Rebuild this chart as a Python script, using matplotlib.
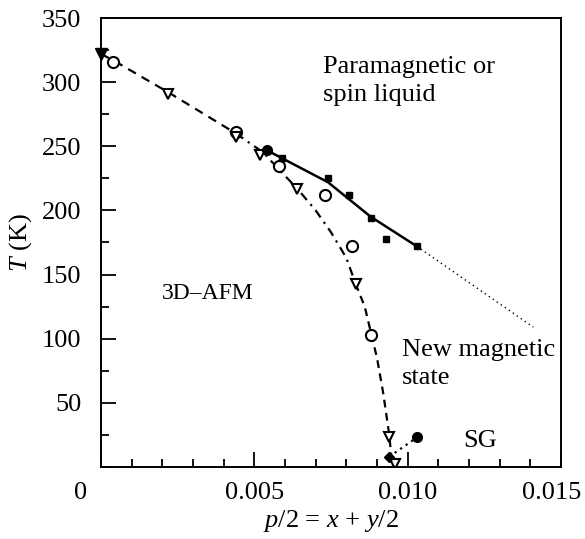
import matplotlib
matplotlib.use('Agg')
import matplotlib.pyplot as plt
import matplotlib.transforms as mtransforms
from matplotlib.ticker import MultipleLocator

plt.rcParams['font.family'] = ['Liberation Serif', 'DejaVu Serif']
plt.rcParams['mathtext.fontset'] = 'custom'
plt.rcParams['mathtext.rm'] = 'Liberation Serif'
plt.rcParams['mathtext.it'] = 'Liberation Serif:italic'

# phase boundary curve (dashed / dash-dot)
curve_x = [0.0, 0.0004, 0.0022, 0.0044, 0.0053, 0.0058, 0.0064, 0.0070,
           0.0075, 0.0080, 0.0083, 0.0086, 0.0088, 0.0090, 0.0092, 0.0094, 0.0095]
curve_T = [322, 317, 292, 260, 245, 232, 217, 200,
           183, 163, 143, 125, 105, 85, 58, 25, 0]

# solid line through the filled squares
solid_x = [0.0054, 0.0074, 0.0088, 0.0103]
solid_T = [247, 222, 195, 172]

# dotted extrapolation
dot_x = [0.0103, 0.0141]
dot_T = [172, 109]

# dotted link near the spin glass region
sg_x = [0.0094, 0.0103]
sg_T = [8, 23]

# markers
open_circ_x = [0.0004, 0.0044, 0.0058, 0.0073, 0.0082, 0.0088]
open_circ_T = [316, 261, 235, 212, 172, 103]

open_tri_x = [0.0022, 0.0044, 0.0052, 0.0064, 0.0083, 0.0094, 0.0096]
open_tri_T = [291, 257, 243, 217, 143, 23, 2]

fill_tri_x = [0.0]
fill_tri_T = [322]

fill_circ_x = [0.0054, 0.0103]
fill_circ_T = [247, 23]

fill_sq_x = [0.0059, 0.0074, 0.0081, 0.0088, 0.0093, 0.0103]
fill_sq_T = [241, 225, 212, 194, 178, 172]

fill_dia_x = [0.0094]
fill_dia_T = [8]

fig = plt.figure(figsize=(5.85, 5.39), dpi=100)
ax = fig.add_axes([0.1726, 0.1336, 0.959 - 0.1726, 0.9666 - 0.1336])

# boundary curve: dashed ends, dash-dot middle
ax.plot(curve_x[:4], curve_T[:4], color='black', lw=1.6, dashes=(4, 3))
ax.plot(curve_x[3:11], curve_T[3:11], color='black', lw=1.6, dashes=(4, 2.5, 1, 2.5))
ax.plot(curve_x[10:], curve_T[10:], color='black', lw=1.6, dashes=(3.5, 2.5))

ax.plot(solid_x, solid_T, color='black', lw=1.8)
ax.plot(dot_x, dot_T, color='black', lw=1.0, linestyle=(0, (1, 2.5)))
ax.plot(sg_x, sg_T, color='black', lw=1.6, linestyle=(0, (1, 2)))

ax.plot(open_circ_x, open_circ_T, 'o', ms=8, mfc='white', mec='black', mew=1.5, ls='none')
ax.plot(open_tri_x, open_tri_T, 'v', ms=7.5, mfc='white', mec='black', mew=1.5, ls='none')
ax.plot(fill_tri_x, fill_tri_T, 'v', ms=8, color='black', ls='none', clip_on=False)
ax.plot(fill_circ_x, fill_circ_T, 'o', ms=7, color='black', ls='none')
ax.plot(fill_sq_x, fill_sq_T, 's', ms=5, color='black', ls='none')
ax.plot(fill_dia_x, fill_dia_T, 'D', ms=5, color='black', ls='none')

ax.set_xlim(0, 0.015)
ax.set_ylim(0, 350)
ax.xaxis.set_major_locator(MultipleLocator(0.005))
ax.xaxis.set_minor_locator(MultipleLocator(0.001))
ax.yaxis.set_major_locator(MultipleLocator(50))
ax.yaxis.set_minor_locator(MultipleLocator(25))
ax.set_xticks([0, 0.005, 0.010, 0.015])
ax.set_xticklabels(['0', '0.005', '0.010', '0.015'])
ax.set_yticks([50, 100, 150, 200, 250, 300, 350])
ax.tick_params(which='both', direction='in', top=False, right=False,
               labelsize=19, width=1.3)
ax.tick_params(which='major', length=11)
ax.tick_params(which='minor', length=6)
ax.tick_params(axis='x', pad=11)
ax.tick_params(axis='y', pad=14)
for s in ax.spines.values():
    s.set_linewidth(1.4)

# the end labels sit a bit off their ticks in the original
xlbls = ax.get_xticklabels()
xlbls[0].set_transform(xlbls[0].get_transform() + mtransforms.ScaledTranslation(-0.2, 0, fig.dpi_scale_trans))
xlbls[-1].set_transform(xlbls[-1].get_transform() + mtransforms.ScaledTranslation(-0.09, 0, fig.dpi_scale_trans))

ax.set_xlabel(r'$p$/2 = $x$ + $y$/2', fontsize=19, labelpad=3)
ax.set_ylabel(r'$T$ (K)', fontsize=19, labelpad=6)

ax.text(0.00725, 320, 'Paramagnetic or\nspin liquid', fontsize=19, va='top', ha='left', linespacing=1.3)
ax.text(0.0020, 135, '3D\u2013AFM', fontsize=17, va='center', ha='left')
ax.text(0.0098, 100, 'New magnetic\nstate', fontsize=19, va='top', ha='left', linespacing=1.35)
ax.text(0.0118, 20, 'SG', fontsize=19, va='center', ha='left')

fig.savefig('out.png', dpi=100)
